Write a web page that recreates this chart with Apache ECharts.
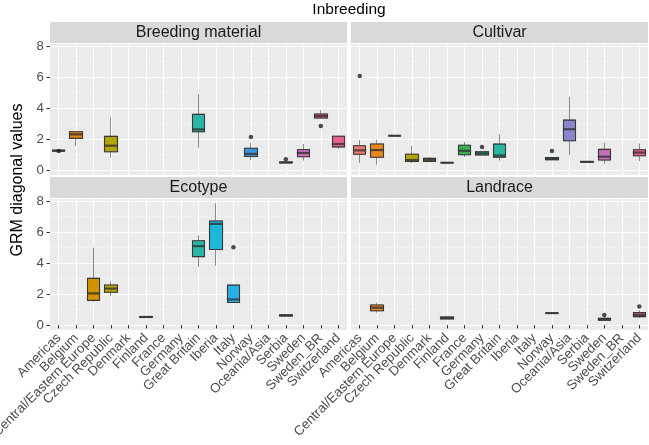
<!DOCTYPE html>
<html><head><meta charset="utf-8">
<script src="https://cdn.jsdelivr.net/npm/echarts@6/dist/echarts.min.js"></script>
<style>html,body{margin:0;padding:0;background:#fff}#c{width:649px;height:445px}</style>
</head><body><div id="c"></div>
<script>
const categories = ['Americas','Belgium','Central/Eastern Europe','Czech Republic','Denmark','Finland','France','Germany','Great Britain','Iberia','Italy','Norway','Oceania/Asia','Serbia','Sweden','Sweden_BR','Switzerland'];
const panelNames = ['Breeding material','Cultivar','Ecotype','Landrace'];
const yTickLabels = [0, 2, 4, 6, 8];

// [min, Q1, median, Q3, max] per category, null = no data
const breedingStats = [
  [1.22,1.23,1.25,1.27,1.30],
  [1.55,2.04,2.30,2.47,2.47],
  null,
  [0.80,1.18,1.57,2.17,3.40],
  null, null, null, null,
  [1.44,2.47,2.62,3.59,4.90],
  null, null,
  [0.65,0.87,1.04,1.40,1.75],
  null,
  [0.46,0.47,0.49,0.51,0.52],
  [0.60,0.86,1.10,1.32,1.68],
  [3.30,3.35,3.48,3.61,3.87],
  [1.35,1.49,1.68,2.18,2.24]
];
const breedingOutliers = [[0,1.22],[11,2.13],[13,0.69],[15,2.84]];

const cultivarStats = [
  [0.45,1.02,1.27,1.57,1.94],
  [0.35,0.82,1.29,1.68,1.94],
  [2.21,2.21,2.21,2.21,2.21],
  [0.45,0.55,0.65,1.02,1.55],
  [0.50,0.55,0.65,0.75,0.84],
  [0.47,0.47,0.47,0.47,0.47],
  [0.84,0.99,1.24,1.60,1.82],
  [0.94,0.97,1.07,1.18,1.22],
  [0.60,0.83,0.94,1.67,2.31],
  null, null,
  [0.63,0.66,0.72,0.80,0.82],
  [0.97,1.89,2.63,3.22,4.72],
  [0.51,0.52,0.53,0.54,0.55],
  [0.39,0.65,0.86,1.33,1.78],
  null,
  [0.58,0.92,1.13,1.31,1.71]
];
const cultivarOutliers = [[0,6.06],[7,1.49],[11,1.22]];

const ecotypeStats = [
  null, null,
  [1.50,1.59,2.04,3.01,4.99],
  [1.89,2.11,2.35,2.58,2.80],
  null,
  [0.51,0.51,0.52,0.53,0.53],
  null, null,
  [3.76,4.41,5.09,5.43,5.78],
  [3.83,4.87,6.52,6.71,7.86],
  [1.45,1.45,1.65,2.57,2.57],
  null, null,
  [0.57,0.59,0.62,0.65,0.72],
  null, null, null
];
const ecotypeOutliers = [[10,5.02]];

const landraceStats = [
  null,
  [0.80,0.92,1.12,1.29,1.42],
  null, null, null,
  [0.39,0.40,0.46,0.52,0.58],
  null, null, null, null, null,
  [0.77,0.77,0.77,0.77,0.77],
  null, null,
  [0.30,0.31,0.37,0.43,0.56],
  null,
  [0.45,0.54,0.65,0.80,0.95]
];
const landraceOutliers = [[14,0.65],[16,1.20]];

const fills = ['#EE7A70','#E8841A','#CF9400','#B4A500','#8AAB1C','#4DB320','#35B152','#2AA584','#29B6A6','#1CB9D6','#2BADE6','#3D94D8','#8A86CA','#B77AD0','#C56DB8','#E15E9F','#EC5F92'];

const statsByPanel = [breedingStats, cultivarStats, ecotypeStats, landraceStats];
const outliersByPanel = [breedingOutliers, cultivarOutliers, ecotypeOutliers, landraceOutliers];

const FONT = '"Liberation Sans", Arial, Helvetica, sans-serif';
const PW = 297, PH = 132, STRIP = 21;
const gridPos = [{left:50,top:43},{left:351,top:43},{left:50,top:198},{left:351,top:198}];
const BOXW = 13;

const grids = [], xAxes = [], yAxes = [], series = [], graphics = [];
gridPos.forEach((g, p) => {
  const isLeft = p % 2 === 0, isBottom = p >= 2;
  grids.push({left:g.left, top:g.top, width:PW, height:PH, show:true, backgroundColor:'#EBEBEB', borderWidth:0, outerBoundsMode:'none', containLabel:false});
  xAxes.push({
    type:'category', gridIndex:p, data:categories, boundaryGap:true,
    axisLine:{show:false},
    axisTick:{show:isBottom, alignWithLabel:true, length:3.5, lineStyle:{color:'#333333', width:1}},
    axisLabel:{show:isBottom, interval:0, rotate:45, margin:6, color:'#4D4D4D', fontSize:13.3, fontFamily:FONT},
    splitLine:{show:true, alignWithLabel:true, lineStyle:{color:'#FFFFFF', width:1.1}},
    splitArea:{show:false}
  });
  yAxes.push({
    type:'value', gridIndex:p, min:-0.32, max:8.19, splitNumber:5,
    axisLine:{show:false},
    axisTick:{show:isLeft, length:3.5, lineStyle:{color:'#333333', width:1}},
    axisLabel:{show:isLeft, margin:6, color:'#4D4D4D', fontSize:13.3, fontFamily:FONT,
      showMinLabel:false, showMaxLabel:false,
      formatter: v => { const r = Math.round(v*100)/100; return yTickLabels.indexOf(r) >= 0 ? String(r) : ''; }},
    splitLine:{show:true, lineStyle:{color:'#FFFFFF', width:1.1}},
    minorTick:{show:false, splitNumber:2},
    minorSplitLine:{show:true, lineStyle:{color:'#F4F4F4', width:0.7}}
  });

  const whisk = [], box = [], med = [];
  statsByPanel[p].forEach((s, i) => {
    if (!s) return;
    const c = fills[i];
    whisk.push({value:[i, s[1], s[3], s[0], s[4]], itemStyle:{color:c, color0:c, borderColor:'#8A8A8A', borderColor0:'#8A8A8A', borderColorDoji:'#8A8A8A'}});
    box.push({value:[i, s[1], s[3], s[1], s[3]], itemStyle:{color:c, color0:c, borderColor:'#383838', borderColor0:'#383838', borderColorDoji:'#383838'}});
    med.push([i, s[2]]);
  });
  series.push({type:'candlestick', xAxisIndex:p, yAxisIndex:p, data:whisk, encode:{x:0, y:[1,2,3,4]}, barWidth:BOXW, itemStyle:{borderWidth:1}, z:2, silent:true, animation:false});
  series.push({type:'candlestick', xAxisIndex:p, yAxisIndex:p, data:box, encode:{x:0, y:[1,2,3,4]}, barWidth:BOXW, itemStyle:{borderWidth:1.1}, z:3, silent:true, animation:false});
  series.push({type:'scatter', xAxisIndex:p, yAxisIndex:p, data:med, symbol:'rect', symbolSize:[BOXW, 2.2], itemStyle:{color:'#333333'}, z:4, silent:true, animation:false});
  series.push({type:'scatter', xAxisIndex:p, yAxisIndex:p, data:outliersByPanel[p], symbol:'circle', symbolSize:4.5, itemStyle:{color:'#222222'}, z:5, silent:true, animation:false});

  graphics.push({type:'rect', shape:{x:g.left, y:g.top-STRIP, width:PW, height:STRIP}, style:{fill:'#D9D9D9'}, silent:true});
  graphics.push({type:'text', x:g.left+PW/2, y:g.top-STRIP/2, style:{text:panelNames[p], fill:'#1A1A1A', fontSize:16, fontFamily:FONT, align:'center', verticalAlign:'middle'}, silent:true});
});
graphics.push({type:'text', x:349, y:10, style:{text:'Inbreeding', fill:'#000000', fontSize:15.5, fontFamily:FONT, align:'center', verticalAlign:'middle'}, silent:true});
graphics.push({type:'text', x:18, y:180, rotation:Math.PI/2, style:{text:'GRM diagonal values', fill:'#000000', fontSize:16, fontFamily:FONT, align:'center', verticalAlign:'middle'}, silent:true});

const chart = echarts.init(document.getElementById('c'), null, {renderer:'canvas'});
chart.setOption({
  animation:false,
  backgroundColor:'#FFFFFF',
  textStyle:{fontFamily:FONT},
  grid:grids, xAxis:xAxes, yAxis:yAxes, series:series, graphic:graphics
});
</script></body></html>
